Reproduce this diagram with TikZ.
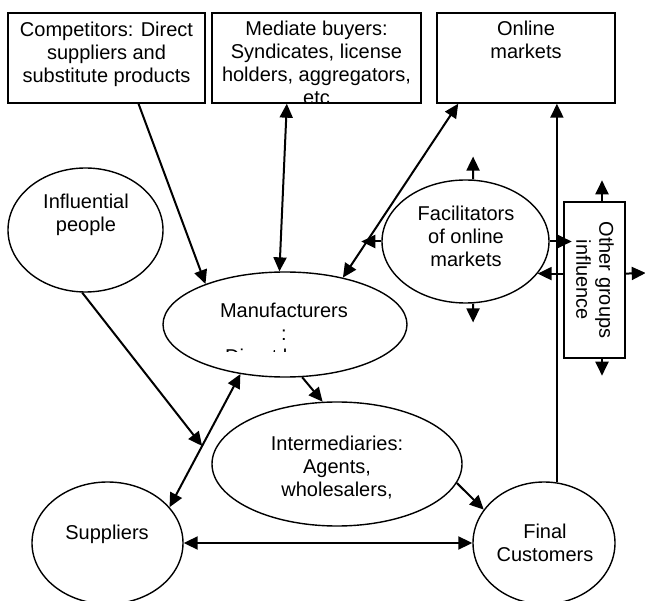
\documentclass[tikz,border=0pt]{standalone}
\usepackage{fontspec}
\setmainfont{Liberation Sans}
\usetikzlibrary{arrows.meta,shapes.geometric,calc}
\begin{document}
\begin{tikzpicture}[x=1pt,y=-1pt,
  shapebox/.style={draw,line width=1.4pt,rectangle,inner sep=0pt},
  oval/.style={draw,line width=1.4pt,ellipse,inner sep=0pt},
  lbl/.style={font=\fontsize{20}{23}\selectfont,align=center,inner sep=0pt},
  arr/.style={line width=2pt,-{Triangle[length=14pt,width=13pt]}},
  darr/.style={line width=2pt,{Triangle[length=14pt,width=13pt]}-{Triangle[length=14pt,width=13pt]}},
  plainline/.style={line width=2pt}]
\useasboundingbox (0,0) rectangle (645,601);
% shapes
\node[shapebox,minimum width=197pt,minimum height=90pt] (comp) at (106.5,58) {};
\node[shapebox,minimum width=209pt,minimum height=90pt] (med) at (316.5,58) {};
\node[shapebox,minimum width=178pt,minimum height=90pt] (onl) at (526,58) {};
\node[oval,minimum width=155pt,minimum height=124pt] (infl) at (85.5,230) {};
\node[oval,minimum width=244pt,minimum height=105pt] (manu) at (285,324.5) {};
\node[oval,minimum width=250pt,minimum height=124pt] (inter) at (337,464) {};
\node[oval,minimum width=151pt,minimum height=122pt] (supp) at (107.5,543) {};
\node[oval,minimum width=142pt,minimum height=122pt] (fin) at (544,543) {};
\node[oval,minimum width=167pt,minimum height=123pt] (fac) at (465.5,241.5) {};
\node[shapebox,minimum width=61pt,minimum height=156pt] (oth) at (594.5,280) {};
% texts
\node[lbl] (compT) at (106.5,54) {Competitors: Direct\\suppliers and\\substitute products};
\begin{scope}
\clip (212,13) rectangle (421,102.5);
\node[lbl] (medT) at (316.5,63) {Mediate buyers:\\Syndicates, license\\holders, aggregators,\\etc};
\end{scope}
\node[lbl] (onlT) at (526,40) {Online\\markets};
\node[lbl] (inflT) at (86,215) {Influential\\people};
\begin{scope}
\clip (160,265) rectangle (410,352);
\node[lbl] (manuT) at (284,335) {Manufacturers\\:\\Direct buyers};
\end{scope}
\node[lbl] (interT) at (337,468) {Intermediaries:\\Agents,\\wholesalers,};
\node[lbl] (suppT) at (107,534) {Suppliers};
\node[lbl] (finT) at (545,543) {Final\\Customers};
\node[lbl] (facT) at (466,236) {Facilitators\\of online\\markets};
\node[lbl,rotate=-90] (othT) at (595,280) {Other groups\\influence};
% free ends
\coordinate (facU) at ($(fac.83)+(0,-23)$);
\coordinate (facD) at ($(fac.-83)+(0,19)$);
\coordinate (facL) at ($(fac.west)+(-20,0)$);
\coordinate (facR) at ($(fac.east)+(22,0)$);
\coordinate (othU) at ($(oth.north)+(7.5,-21)$);
\coordinate (othD) at ($(oth.south)+(7.5,17)$);
\coordinate (othR) at ($(oth.east)+(20,-7)$);
\coordinate (sm) at ($(supp.30)!0.46!(manu.-132)$);
% connectors
\draw[arr] (comp.-55) -- (manu.153);
\draw[darr] (manu.96) -- (med.-123);
\draw[darr] (manu.39) -- (onl.-146.5);
\draw[arr] (fin.78) -- (fin.78 |- onl.south);
\draw[darr] (supp.30) -- (manu.-132);
\draw[arr] (infl.-93) -- (sm);
\draw[arr] (manu.-72) -- (inter.103);
\draw[arr] (inter.-9) -- (fin.151);
\draw[darr] (supp.east) -- (fin.west);
\draw[arr] ($(fac.north)+(7.5,0)$) -- (facU);
\draw[arr] ($(fac.south)+(7.5,0)$) -- (facD);
\draw[arr] (fac.west) -- (facL);
\draw[arr] (fac.east) -- (facR);
\draw[arr] (fac.-24 -| oth.west) -- (fac.-24);
\draw[arr] ($(oth.north)+(7.5,0)$) -- (othU);
\draw[arr] ($(oth.south)+(7.5,0)$) -- (othD);
\draw[arr] (fac.-24 -| oth.east) -- (othR);
\end{tikzpicture}
\end{document}
